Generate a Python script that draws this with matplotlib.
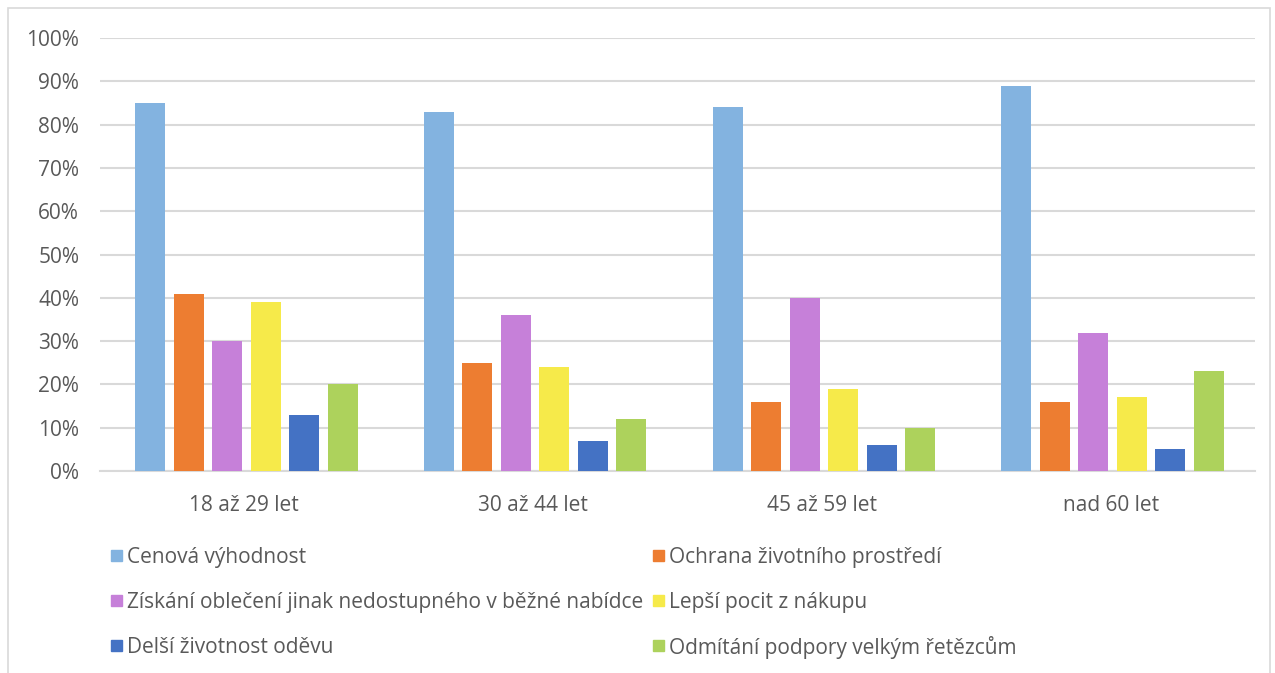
import numpy as np
import matplotlib.pyplot as plt
from matplotlib.patches import Rectangle

groups = ["18 až 29 let", "30 až 44 let", "45 až 59 let", "nad 60 let"]
series = [
    "Cenová výhodnost",
    "Ochrana životního prostředí",
    "Získání oblečení jinak nedostupného v běžné nabídce",
    "Lepší pocit z nákupu",
    "Delší životnost oděvu",
    "Odmítání podpory velkým řetězcům",
]
cenova = [85, 83, 84, 89]
ochrana = [41, 25, 16, 16]
ziskani = [30, 36, 40, 32]
lepsi = [39, 24, 19, 17]
delsi = [13, 7, 6, 5]
odmitani = [20, 12, 10, 23]
values = [cenova, ochrana, ziskani, lepsi, delsi, odmitani]
colors = ["#83B3E0", "#ED7D31", "#C680D9", "#F6EA4A", "#4472C4", "#ADD25C"]

plt.rcParams["font.family"] = ["Open Sans", "DejaVu Sans"]
text_color = "#595959"

W, H = 1275, 673
fig = plt.figure(figsize=(W / 100, H / 100), dpi=100)
ax = fig.add_axes([0.0784, 0.300, 0.906, 0.6435])

# light frame around the whole chart
fig.patches.append(Rectangle((0.006, -0.01), 0.99, 0.998, transform=fig.transFigure,
                             fill=False, edgecolor="#D9D9D9", linewidth=1.2))

x = np.arange(len(groups))
slot = 0.1333
width = 0.104
for i, (name, vals) in enumerate(zip(series, values)):
    ax.bar(x + (i - 2.45) * slot, vals, width, color=colors[i], label=name, zorder=3)

ax.set_xlim(-0.5, len(groups) - 0.5)
ax.set_ylim(0, 100)
ax.set_yticks(range(0, 101, 10))
ax.set_yticklabels([f"{v}%" for v in range(0, 101, 10)])
ax.set_xticks(x)
ax.set_xticklabels(groups)
ax.tick_params(axis="both", length=0, labelsize=15, colors=text_color)
ax.tick_params(axis="x", pad=17)
ax.tick_params(axis="y", pad=15)
ax.grid(axis="y", color="#D9D9D9", linewidth=1.5, zorder=0)
for s in ["top", "right", "left"]:
    ax.spines[s].set_visible(False)
ax.spines["bottom"].set_color("#D9D9D9")
ax.spines["bottom"].set_linewidth(1.5)

# legend: two columns, three rows, filled row by row
col_x = [111, 653]
row_y = [555, 600, 645]
sq = 11
for i, name in enumerate(series):
    cx = col_x[i % 2]
    cy = row_y[i // 2]
    fig.patches.append(Rectangle((cx / W, (H - cy - sq / 2) / H), sq / W, sq / H,
                                 transform=fig.transFigure, color=colors[i]))
    fig.text((cx + sq + 5) / W, (H - cy) / H, name, fontsize=15,
             color=text_color, va="center_baseline", ha="left")

fig.savefig("out.png", dpi=100)
